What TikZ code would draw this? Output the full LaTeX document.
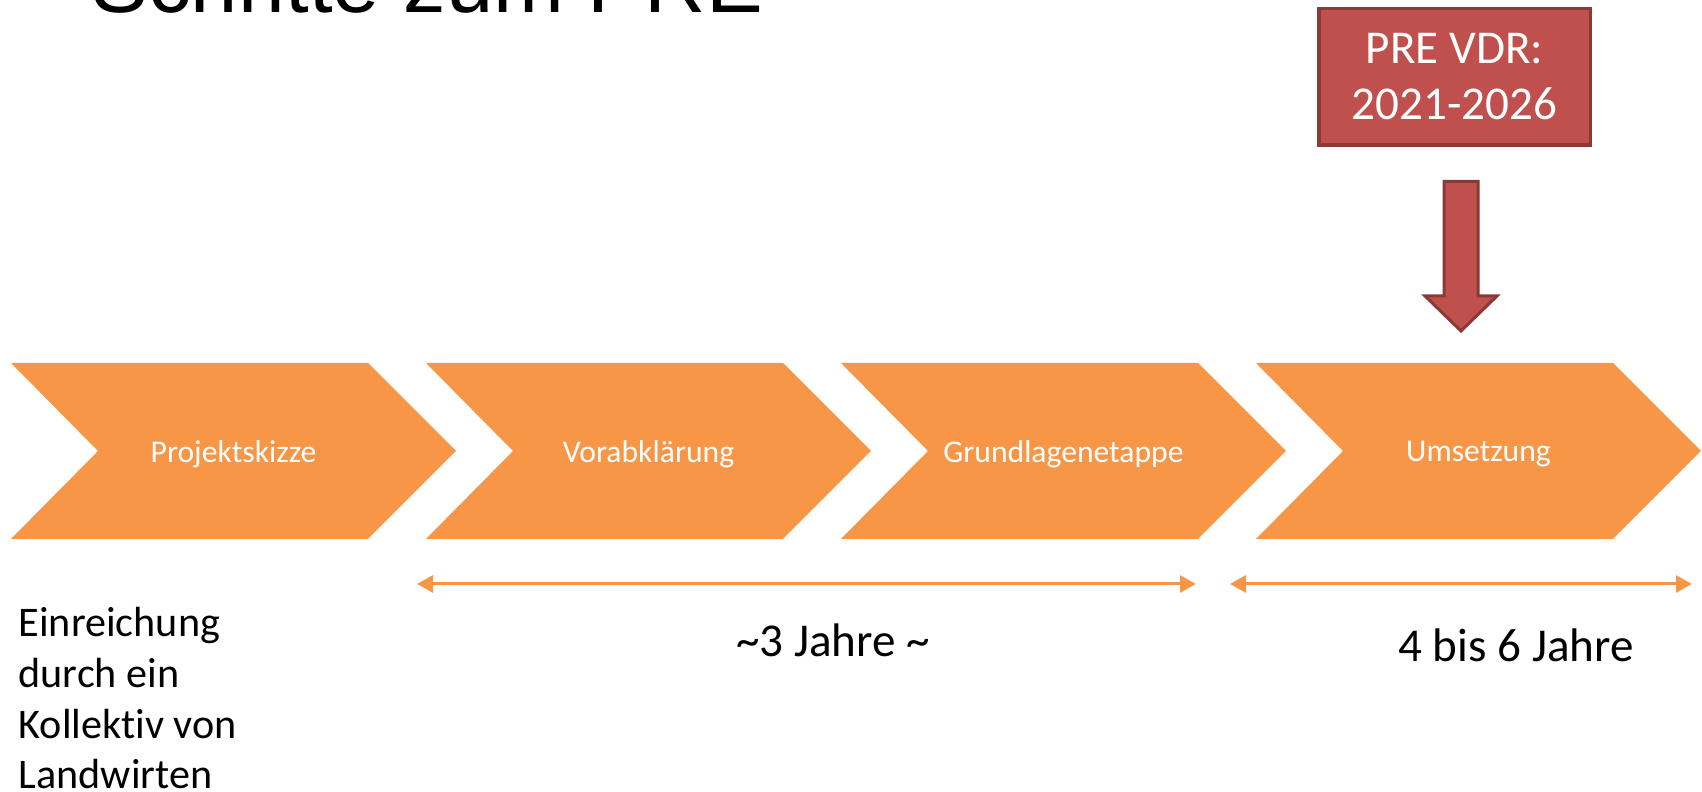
\documentclass[tikz,border=0pt]{standalone}
\usepackage{fontspec}
\setmainfont{Carlito}[Ligatures=NoCommon]
\newfontfamily\titlefont{Liberation Sans}
\usetikzlibrary{arrows.meta}
\definecolor{chevorange}{HTML}{F79646}
\definecolor{boxred}{HTML}{C0504D}
\definecolor{boxline}{HTML}{8C3836}

\begin{document}
\begin{tikzpicture}[
  chevtext/.style={text=white, font=\fontsize{9}{11}\selectfont},
  span/.style={{Triangle[length=0.16cm,width=0.17cm]}-{Triangle[length=0.16cm,width=0.17cm]}, draw=chevorange, line width=0.03cm},
  durlabel/.style={anchor=base, font=\fontsize{13.4}{16}\selectfont}]
\useasboundingbox (0,0) rectangle (17.02,7.92);
\clip (0,0) rectangle (17.02,7.92);

% Title (cut off at the top)
\node[anchor=base west, inner sep=0, font=\titlefont\fontsize{24.2}{29}\selectfont] (title) at (0.91,7.79) {Schritte zum PRE};

% Phases
\foreach \i/\name/\txt in {0/skizze/Projektskizze, 1/vorab/Vorabklärung, 2/grund/Grundlagenetappe, 3/umsetz/Umsetzung} {
  \fill[chevorange] (0.11+4.15*\i,4.29) -- ++(3.57,0) -- ++(0.88,-0.88) -- ++(-0.88,-0.88) -- ++(-3.57,0) -- ++(0.87,0.88) -- cycle;
  \node[chevtext] (\name) at (2.335+4.15*\i,3.38) {\txt};
}

% PRE VDR
\node[draw=boxline, fill=boxred, line width=0.035cm, minimum width=2.715cm, minimum height=1.365cm, text=white, align=center, font=\fontsize{13.4}{15.9}\selectfont] (vdr) at (14.545,7.15) {PRE VDR:\\2021-2026};

% Down arrow
\coordinate (tip) at (14.61,4.61);
\draw[boxline, fill=boxred, line width=0.03cm] (tip) -- ++(0.36,0.35) -- ++(-0.19,0) -- ++(0,1.145) -- ++(-0.34,0) -- ++(0,-1.145) -- ++(-0.19,0) -- cycle;

% Durations
\coordinate (a1) at (4.17,2.08);
\coordinate (b1) at (11.96,2.08);
\draw[span] (a1) -- (b1);
\coordinate (a2) at (12.30,2.08);
\coordinate (b2) at (16.92,2.08);
\draw[span] (a2) -- (b2);
\node[durlabel] (drei) at (8.33,1.35) {\textasciitilde 3 Jahre \textasciitilde};
\node[durlabel] (vier) at (15.16,1.30) {4 bis 6 Jahre};

% Submission note
\node[anchor=north west, align=left, inner sep=0, font=\fontsize{12}{14.4}\selectfont] (note) at (0.18,1.85) {Einreichung\\durch ein\\Kollektiv von\\Landwirten};

\end{tikzpicture}
\end{document}
